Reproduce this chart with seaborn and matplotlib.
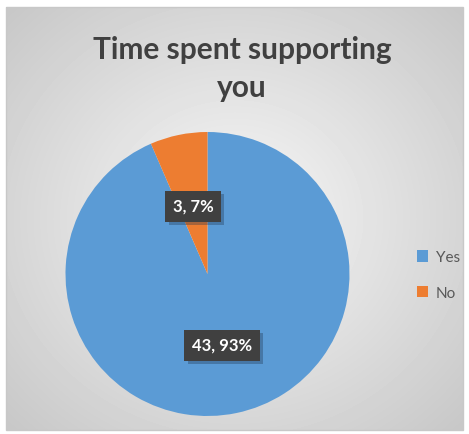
import numpy as np
import matplotlib
matplotlib.use("Agg")
import matplotlib.pyplot as plt
import seaborn as sns
from matplotlib.patches import Rectangle, Patch
import matplotlib.patheffects as pe

sns.set_theme(style="white")
plt.rcParams['font.family'] = ['Lato', 'DejaVu Sans']

# data
labels = ["Yes", "No"]
values = [43, 3]
colors = ["#5B9BD5", "#ED7D31"]

W, H = 469, 435
fig = plt.figure(figsize=(W / 100, H / 100), dpi=100)
fig.patch.set_facecolor("white")

# background with radial gradient (Excel style)
bg = fig.add_axes([0, 0, 1, 1])
bg.set_xlim(0, W)
bg.set_ylim(H, 0)
bg.axis("off")
x0, y0, x1, y1 = 6, 8, 463, 431
yy, xx = np.mgrid[y0:y1, x0:x1]
cx, cy = (x0 + x1) / 2, (y0 + y1) / 2
d = np.sqrt(((xx - cx) / ((x1 - x0) / 2)) ** 2 + ((yy - cy) / ((y1 - y0) / 2)) ** 2) / np.sqrt(2)
g = 0.97 - 0.19 * np.clip(d, 0, 1)
bg.imshow(g, cmap="gray", vmin=0, vmax=1, extent=[x0, x1, y1, y0], aspect="auto")
bg.add_patch(Rectangle((x0, y0), x1 - x0, y1 - y0, fill=False, edgecolor="#c8c8c8", lw=1))

# title
bg.text(242, 50, "Time spent supporting", ha="center", va="center",
        fontsize=21.5, fontweight="bold", color="#404040")
bg.text(242, 88, "you", ha="center", va="center",
        fontsize=21.5, fontweight="bold", color="#404040")

# pie
pcx, pcy, r = 207.5, 275, 142
ax = fig.add_axes([(pcx - r) / W, (H - pcy - r) / H, 2 * r / W, 2 * r / H])
wedges, _ = ax.pie(values, colors=colors, startangle=90, counterclock=False,
                   radius=1, wedgeprops=dict(linewidth=0))
ax.set_xlim(-1, 1)
ax.set_ylim(-1, 1)
ax.set_aspect("auto")
ax.axis("off")

# data labels on an overlay so they sit above the pie
top = fig.add_axes([0, 0, 1, 1])
top.set_xlim(0, W)
top.set_ylim(H, 0)
top.axis("off")
total = sum(values)
label_pos = [(222, 346), (193, 207)]
for v, (lx, ly) in zip(values, label_pos):
    t = top.text(lx, ly, f"{v}, {round(100 * v / total)}%", ha="center", va="center",
                 fontsize=12, fontweight="bold", color="white",
                 bbox=dict(boxstyle="square,pad=0.45", facecolor="#404040", edgecolor="none"))
    t.get_bbox_patch().set_path_effects(
        [pe.SimplePatchShadow(offset=(2.5, -2.5), shadow_rgbFace="#1f3550", alpha=0.35), pe.Normal()])

# legend
handles = [Patch(facecolor=c, edgecolor="none") for c in colors]
leg = fig.legend(handles, labels, loc="center left", bbox_to_anchor=(403 / W, 1 - 276 / H),
                 frameon=False, fontsize=11, handlelength=0.75, handleheight=0.75,
                 handletextpad=0.5, labelspacing=1.4, labelcolor="#595959")

fig.savefig("out.png", dpi=100)
